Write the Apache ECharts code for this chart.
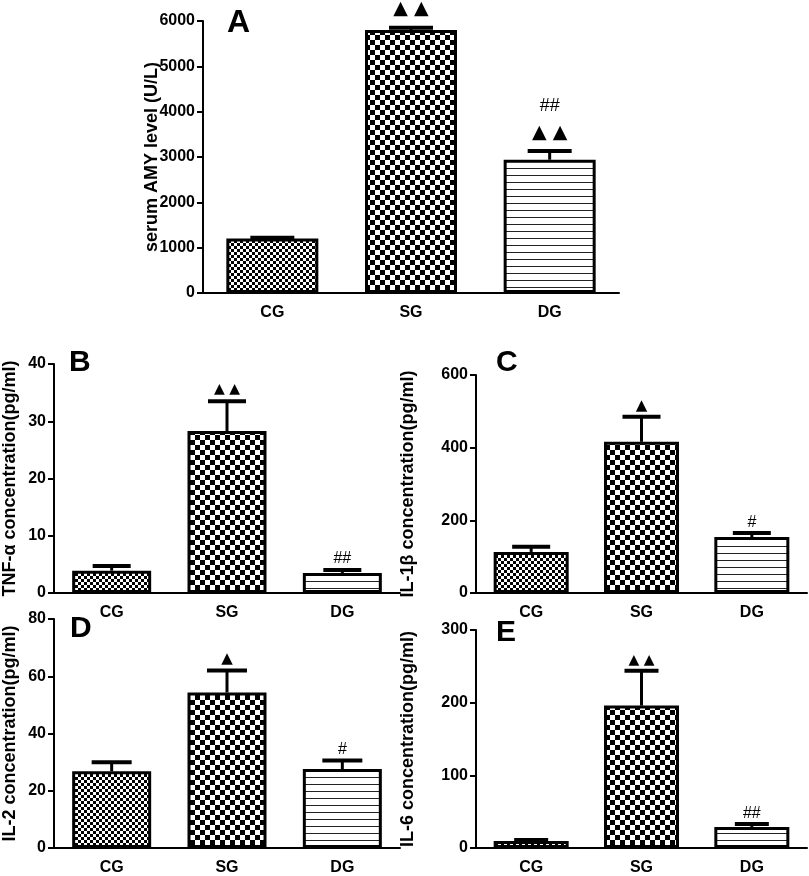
<!DOCTYPE html>
<html>
<head>
<meta charset="utf-8">
<script src="https://cdn.jsdelivr.net/npm/echarts@6/dist/echarts.min.js"></script>
<style>
  html, body { margin: 0; padding: 0; background: #fff; }
  #main { width: 809px; height: 876px; }
</style>
</head>
<body>
<div id="main"></div>
<script>
// groups
const categories = ['CG', 'SG', 'DG'];

// panel A - serum AMY (U/L)
const amyMean = [1200, 5800, 2940];
const amySem = [20, 50, 190];
const amyTri = ['', '▲ ▲', '▲ ▲'];
const amyHash = ['', '', '##'];

// panel B - TNF-α (pg/ml)
const tnfMean = [3.9, 28.3, 3.5];
const tnfSem = [0.8, 5.2, 0.5];
const tnfTri = ['', '▲ ▲', ''];
const tnfHash = ['', '', '##'];

// panel C - IL-1β (pg/ml)
const il1bMean = [113, 416, 154];
const il1bSem = [14, 69, 11];
const il1bTri = ['', '▲', ''];
const il1bHash = ['', '', '#'];

// panel D - IL-2 (pg/ml)
const il2Mean = [26.8, 54.3, 27.6];
const il2Sem = [3.2, 7.7, 3.0];
const il2Tri = ['', '▲', ''];
const il2Hash = ['', '', '#'];

// panel E - IL-6 (pg/ml)
const il6Mean = [9.6, 196, 29];
const il6Sem = [1.4, 48, 4];
const il6Tri = ['', '▲ ▲', ''];
const il6Hash = ['', '', '##'];

const FONT = '"Liberation Sans", Arial, Helvetica, sans-serif';

// fill patterns
function checker(size) {
  const c = document.createElement('canvas');
  c.width = size * 2;
  c.height = size * 2;
  const ctx = c.getContext('2d');
  ctx.fillStyle = '#fff';
  ctx.fillRect(0, 0, c.width, c.height);
  ctx.fillStyle = '#000';
  ctx.fillRect(0, 0, size, size);
  ctx.fillRect(size, size, size, size);
  return c;
}
function stripes(gap) {
  const c = document.createElement('canvas');
  c.width = 8;
  c.height = gap;
  const ctx = c.getContext('2d');
  ctx.fillStyle = '#fff';
  ctx.fillRect(0, 0, c.width, c.height);
  ctx.fillStyle = '#222';
  ctx.fillRect(0, 0, c.width, 1);
  return c;
}
const patterns = [
  { image: checker(3), repeat: 'repeat' },
  { image: checker(5), repeat: 'repeat' },
  { image: stripes(7), repeat: 'repeat' }
];

const panels = [
  { name: 'A', title: 'serum AMY level (U/L)', mean: amyMean, sem: amySem, tri: amyTri, hash: amyHash,
    grid: { left: 203, top: 21, width: 416, height: 272 }, max: 6000, interval: 1000,
    barWidth: 92, cap: 44, nameGap: 42, letter: { left: 227, top: 7, size: 32 }, triSize: 19, hashSize: 18, gap: 9 },
  { name: 'B', title: 'TNF-α concentration(pg/ml)', mean: tnfMean, sem: tnfSem, tri: tnfTri, hash: tnfHash,
    grid: { left: 53, top: 364, width: 347, height: 229 }, max: 40, interval: 10,
    barWidth: 79, cap: 38, nameGap: 35, letter: { left: 69, top: 348, size: 30 }, triSize: 14, hashSize: 16, gap: 5 },
  { name: 'C', title: 'IL-1β concentration(pg/ml)', mean: il1bMean, sem: il1bSem, tri: il1bTri, hash: il1bHash,
    grid: { left: 476, top: 375, width: 331, height: 218 }, max: 600, interval: 200,
    barWidth: 75, cap: 38, nameGap: 59, letter: { left: 496, top: 348, size: 30 }, triSize: 15, hashSize: 16, gap: 3 },
  { name: 'D', title: 'IL-2 concentration(pg/ml)', mean: il2Mean, sem: il2Sem, tri: il2Tri, hash: il2Hash,
    grid: { left: 53, top: 619, width: 347, height: 230 }, max: 80, interval: 20,
    barWidth: 79, cap: 40, nameGap: 35, letter: { left: 70, top: 614, size: 30 }, triSize: 15, hashSize: 16, gap: 4 },
  { name: 'E', title: 'IL-6 concentration(pg/ml)', mean: il6Mean, sem: il6Sem, tri: il6Tri, hash: il6Hash,
    grid: { left: 476, top: 630, width: 331, height: 219 }, max: 300, interval: 100,
    barWidth: 75, cap: 34, nameGap: 59, letter: { left: 496, top: 618, size: 30 }, triSize: 14, hashSize: 16, gap: 3 }
];

const chart = echarts.init(document.getElementById('main'), null, { renderer: 'canvas' });

let option = {
  backgroundColor: '#fff',
  animation: false,
  title: panels.map(p => ({
    text: p.name,
    left: p.letter.left,
    top: p.letter.top,
    padding: 0,
    textStyle: { fontFamily: FONT, fontWeight: 'bold', fontSize: p.letter.size, color: '#000' }
  })),
  grid: panels.map(p => p.grid),
  xAxis: panels.map((p, i) => ({
    type: 'category',
    gridIndex: i,
    data: categories,
    axisLine: { lineStyle: { color: '#000', width: 2 } },
    axisTick: { alignWithLabel: true, length: 6, lineStyle: { color: '#000', width: 2 } },
    axisLabel: { color: '#000', fontFamily: FONT, fontWeight: 'bold', fontSize: 16, margin: 12 },
    splitLine: { show: false }
  })),
  yAxis: panels.map((p, i) => ({
    type: 'value',
    gridIndex: i,
    min: 0,
    max: p.max,
    interval: p.interval,
    name: p.title,
    nameLocation: 'middle',
    nameRotate: 90,
    nameGap: p.nameGap,
    nameMoveOverlap: false,
    nameTextStyle: { color: '#000', fontFamily: FONT, fontWeight: 'bold', fontSize: 18 },
    axisLine: { show: true, lineStyle: { color: '#000', width: 2 } },
    axisTick: { show: true, length: 6, lineStyle: { color: '#000', width: 2 } },
    axisLabel: { color: '#000', fontFamily: FONT, fontWeight: 'bold', fontSize: 16, margin: 8,
      formatter: v => String(v) },
    splitLine: { show: false }
  })),
  series: []
};

panels.forEach((p, i) => {
  option.series.push({
    type: 'bar',
    xAxisIndex: i,
    yAxisIndex: i,
    barWidth: p.barWidth,
    z: 3,
    data: p.mean.map((v, k) => ({
      value: v,
      itemStyle: { color: patterns[k], borderColor: '#000', borderWidth: 3 }
    }))
  });
  // error bars with significance marks
  option.series.push({
    type: 'custom',
    xAxisIndex: i,
    yAxisIndex: i,
    z: 2,
    data: p.mean.map((v, k) => [k, v, v + p.sem[k]]),
    renderItem: function (params, api) {
      const k = api.value(0);
      const base = api.coord([k, api.value(1)]);
      const top = api.coord([k, api.value(2)]);
      const half = p.cap / 2;
      const children = [
        { type: 'line', shape: { x1: base[0], y1: base[1], x2: top[0], y2: top[1] },
          style: { stroke: '#000', lineWidth: 3 } },
        { type: 'line', shape: { x1: top[0] - half, y1: top[1], x2: top[0] + half, y2: top[1] },
          style: { stroke: '#000', lineWidth: 4 } }
      ];
      let y = top[1] - 2 - p.gap;
      if (p.tri[k]) {
        children.push({ type: 'text', z2: 5,
          style: { text: p.tri[k], x: top[0], y: y + 2, align: 'center', verticalAlign: 'bottom',
            fontFamily: '"DejaVu Sans", sans-serif', fontSize: p.triSize, fill: '#000' } });
        y -= p.triSize * 0.95 + (p.name === 'A' ? 10 : 4);
      }
      if (p.hash[k]) {
        children.push({ type: 'text', z2: 5,
          style: { text: p.hash[k], x: top[0], y: y + 3, align: 'center', verticalAlign: 'bottom',
            fontFamily: FONT, fontSize: p.hashSize, fill: '#000' } });
      }
      return { type: 'group', children: children };
    }
  });
});

chart.setOption(option);
</script>
</body>
</html>
